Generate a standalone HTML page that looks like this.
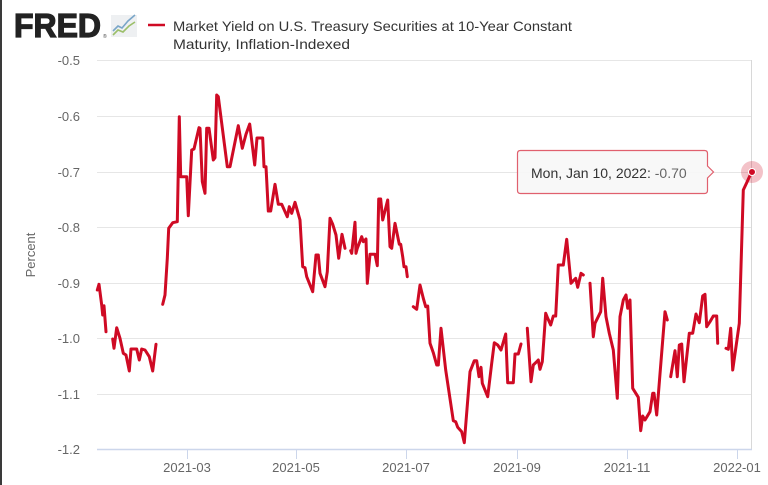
<!DOCTYPE html>
<html><head><meta charset="utf-8"><style>
html,body{margin:0;padding:0;background:#fff;}
body{width:768px;height:485px;overflow:hidden;position:relative;font-family:"Liberation Sans",sans-serif;}
</style></head><body>
<svg width="768" height="485" viewBox="0 0 768 485" xmlns="http://www.w3.org/2000/svg" style="position:absolute;left:0;top:0">
<rect x="0" y="0" width="768" height="485" fill="#fff"/>
<rect x="0" y="0" width="2" height="485" fill="#3a3a3a"/>
<!-- logo -->
<text x="14" y="37" font-family="Liberation Sans, sans-serif" font-weight="bold" font-size="33" fill="#222" stroke="#222" stroke-width="1.3" textLength="87" lengthAdjust="spacingAndGlyphs">FRED</text>
<text x="103" y="38" font-size="5" fill="#444">®</text>
<rect x="111" y="15" width="26" height="22" fill="#eef0f2"/>
<polyline points="113,31 118,26 122,28 128,21 135,15" fill="none" stroke="#7aa6c8" stroke-width="1.6"/>
<polyline points="113,35 118,30 123,32 129,26 135,22" fill="none" stroke="#9cbf6a" stroke-width="1.6"/>
<!-- legend -->
<line x1="148" y1="25" x2="165" y2="25" stroke="#cf0a24" stroke-width="2.5"/>
<text x="173" y="31" font-size="14" fill="#333" textLength="399" lengthAdjust="spacingAndGlyphs">Market Yield on U.S. Treasury Securities at 10-Year Constant</text>
<text x="173" y="49" font-size="14" fill="#333" textLength="177" lengthAdjust="spacingAndGlyphs">Maturity, Inflation-Indexed</text>
<!-- grid -->
<g stroke="#e6e6e6" stroke-width="1">
<line x1="97" y1="60.5" x2="752" y2="60.5"/>
<line x1="97" y1="116.5" x2="752" y2="116.5"/>
<line x1="97" y1="172.5" x2="752" y2="172.5"/>
<line x1="97" y1="227.5" x2="752" y2="227.5"/>
<line x1="97" y1="283.5" x2="752" y2="283.5"/>
<line x1="97" y1="338.5" x2="752" y2="338.5"/>
<line x1="97" y1="394.5" x2="752" y2="394.5"/>
</g>
<line x1="751.5" y1="60" x2="751.5" y2="449" stroke="#d8d8d8" stroke-width="1"/>
<line x1="97" y1="449.5" x2="752" y2="449.5" stroke="#ccd6eb" stroke-width="1.5"/>
<g stroke="#ccd6eb" stroke-width="1">
<line x1="187.5" y1="449" x2="187.5" y2="459"/>
<line x1="296.5" y1="449" x2="296.5" y2="459"/>
<line x1="406.5" y1="449" x2="406.5" y2="459"/>
<line x1="517.5" y1="449" x2="517.5" y2="459"/>
<line x1="627.5" y1="449" x2="627.5" y2="459"/>
<line x1="737.5" y1="449" x2="737.5" y2="459"/>
</g>
<!-- y labels -->
<g font-size="13" fill="#666" text-anchor="end">
<text x="80" y="65">-0.5</text>
<text x="80" y="121">-0.6</text>
<text x="80" y="177">-0.7</text>
<text x="80" y="232">-0.8</text>
<text x="80" y="288">-0.9</text>
<text x="80" y="343">-1.0</text>
<text x="80" y="399">-1.1</text>
<text x="80" y="454">-1.2</text>
</g>
<text x="35" y="255" font-size="13" fill="#666" text-anchor="middle" transform="rotate(-90 35 255)">Percent</text>
<!-- x labels -->
<g font-size="13" fill="#666" text-anchor="middle">
<text x="187" y="472">2021-03</text>
<text x="296" y="472">2021-05</text>
<text x="406" y="472">2021-07</text>
<text x="517" y="472">2021-09</text>
<text x="627" y="472">2021-11</text>
<text x="737" y="472">2022-01</text>
</g>
<!-- series -->
<g fill="none" stroke="#cf0a24" stroke-width="3" stroke-linejoin="round" stroke-linecap="round">
<polyline points="97.3,290 99,284.3 101.7,305 102.7,315 104,305.7 106,331.7"/>
<polyline points="112.7,339 114,348.3 116.7,327.7 120,338.3 123.3,353.3 126,355 129.3,371 131,349 136.7,349 139.3,360 141.7,349 145,350 149.3,356.7 152.7,371 156,344.3"/>
<polyline points="162.7,304.3 165,295 167.3,258.3 168.7,228.3 172.7,222.7 177.3,221.7 179.3,116.7 180.7,176.7 186.7,176.7 188.3,215.7 191.7,150 194,149 199,127.7 200,128.3 202.3,181.7 205,193.3 206.7,128.3 209,128.3 213.3,160 215,157.7 216.7,95 218.3,96.7 227.3,166.7 230,166.7 238.3,125.7 242.3,148.3 246,134.3 249.7,124 254.7,165 257,138 262.7,138 264,166.7 266,166.7 268.3,211 270.7,211 275,184.3 278.3,204.3 281.7,204.3 287.3,216.7 289.3,206.7 291.7,213.3 295,202.3 300,220 302.7,266.7 305,267.7 306.7,276.7 312.7,291.7 316,255 318.3,255 320,273.3 325,286.7 327.3,271.7 330,218.3 332.7,224.3 336,235 338.7,258.3 342,234.3 345,248.3"/>
<polyline points="350.7,250.7 351.7,253.3 355,222.3 356,253.3 357.3,248.3 361.7,236.7 363.3,241.7 366,239 367.3,283.3 370,254.3 375,254.3 377.3,265.7 378.7,199 380.7,199 382.7,220 387.7,200 390,246.7 391.7,248.3 395,223.3 399.3,244.3 400.7,244.3 402.7,256.7 404,266.7 406,266.7 407.3,276.7"/>
<polyline points="413.3,306.7 416.7,309.3 420,285 423.3,298.3 425.7,306.7 427.7,306 430,343.3 433.3,352.7 436.7,365 438.3,365 441,328.3 445.7,370 453.3,420.7 455.7,421.7 457.7,427.3 461.7,431.7 464.3,442.7 470,371.7 474.3,360.7 476.7,360.7 479,376.7 481,367.3 482.3,383.3 487.7,396.7 491.7,363.3 494.3,342.7 497.7,345 501,350 505.7,334 507.7,382.7 513.3,382.7 515,354 518.3,354 521,344"/>
<polyline points="527.3,328.3 531,381.7 533.3,365 536.7,361.7 538.3,360 540,369.3 542.3,361.7 545.7,313.3 547.7,318.3 550.7,325 553.3,316 555.7,316 558.3,265 563.3,265 566.7,239.3 571,283.3 573.3,280.7 575.7,278.3 577.7,287.3 581,273.3 583.3,275"/>
<polyline points="590,283.3 593.3,336.7 595,323.3 600.7,311.7 602.7,278.3 606,316.7 609.3,333.3 613.3,350 617.3,398.3 620,316.7 623.3,300 626,295 627.7,308.3 630,300 632.7,388.3 638.3,397.3 640.7,430.7 642.7,416 645,420 650,411.7 652.7,393.3 654,393.3 656.7,415 665,311.7 667.3,320"/>
<polyline points="670.7,376.7 675,350.7 677.3,376.7 679.3,345 681.7,344 684,381.7 689.3,333.3 692.7,333.3 696,314 699.3,322.7 702.7,296 705,294.3 706.7,326.7 710,321.7 713.3,316 716.7,316 717.7,343.3"/>
<polyline points="726,348.3 728.3,349.3 730.7,328.3 732.7,370 739.3,323.3 743.3,190 746.7,182.7 751.7,171.7"/>
</g>
<!-- hover point -->
<circle cx="752" cy="172" r="11" fill="#cf0a24" fill-opacity="0.25"/>
<circle cx="752" cy="172" r="3.5" fill="#cf0a24" stroke="#fff" stroke-width="1"/>
<!-- tooltip -->
<path d="M520.5,150.5 H704.5 Q707.5,150.5 707.5,153.5 V166 L713.5,172 L707.5,178 V190.5 Q707.5,193.5 704.5,193.5 H520.5 Q517.5,193.5 517.5,190.5 V153.5 Q517.5,150.5 520.5,150.5 Z" fill="#f7f7f7" fill-opacity="0.92" stroke="#e0606e" stroke-width="1.2"/>
<text x="531" y="178" font-size="14" fill="#333">Mon, Jan 10, 2022: <tspan fill="#666">-0.70</tspan></text>
</svg>
</body></html>
